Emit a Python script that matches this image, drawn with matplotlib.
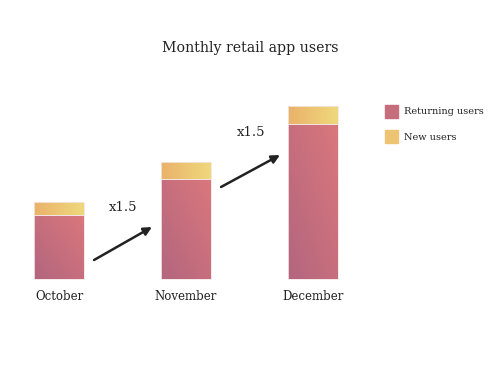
import numpy as np
import matplotlib
matplotlib.use('Agg')
import matplotlib.pyplot as plt
from matplotlib.colors import LinearSegmentedColormap
from matplotlib.patches import Rectangle

months = ['October', 'November', 'December']
returning = [50, 78, 121]
new = [10, 13, 14]

plt.rcParams['font.family'] = ['DejaVu Serif']

ret_cmap = LinearSegmentedColormap.from_list('ret', ['#b3667f', '#da777c'])
new_cmap = LinearSegmentedColormap.from_list('new', ['#eab26a', '#efd87c'])


def grad_bar(ax, x0, y0, w, h, cmap, diagonal):
    xx, yy = np.meshgrid(np.linspace(0, 1, 64), np.linspace(0, 1, 64))
    z = (xx + yy) / 2 if diagonal else xx
    im = ax.imshow(z, cmap=cmap, extent=(x0, x0 + w, y0, y0 + h),
                   origin='lower', aspect='auto', zorder=2)
    clip = Rectangle((x0, y0), w, h, transform=ax.transData)
    im.set_clip_path(clip)
    ax.add_patch(Rectangle((x0, y0), w, h, fill=False, ec='#f4e6e6', lw=0.6, zorder=3))


fig = plt.figure(figsize=(5, 3.77), dpi=100)
ax = fig.add_axes([0, 0, 1, 1])
px = 1.2833
ax.set_xlim(-59 / 127, 441 / 127)
ax.set_ylim(-(377 - 279) / px, 279 / px)
ax.axis('off')

w = 0.39
x = np.arange(len(months))
for i, m in enumerate(months):
    grad_bar(ax, x[i] - w / 2, 0, w, returning[i], ret_cmap, True)
    grad_bar(ax, x[i] - w / 2, returning[i], w, new[i], new_cmap, False)
    ax.text(x[i], -14, m, ha='center', va='center', fontsize=8.5, color='#222222')

totals = [r + n for r, n in zip(returning, new)]
arrows = [((0.276, 14.8), (0.732, 40.5), (0.504, 56)),
          ((1.276, 71.7), (1.740, 96.6), (1.512, 114))]
for i, (s, e, t) in enumerate(arrows):
    ax.annotate('', xy=e, xytext=s,
                arrowprops=dict(arrowstyle='-|>', color='#222222', lw=1.8,
                                mutation_scale=12, shrinkA=0, shrinkB=0))
    ax.text(t[0], t[1], f'x{totals[i + 1] / totals[i]:.1f}', ha='center', va='center',
            fontsize=9.5, color='#222222')

fig.text(0.5, 1 - 48 / 377, 'Monthly retail app users', ha='center', va='center',
         fontsize=10.2, color='#222222')

# legend
lax = fig.add_axes([0, 0, 1, 1], facecolor='none')
lax.set_xlim(0, 500)
lax.set_ylim(377, 0)
lax.axis('off')
lax.add_patch(Rectangle((385, 105), 13, 13, color='#c66d7c'))
lax.add_patch(Rectangle((385, 130), 13, 13, color='#edc473'))
lax.text(404, 112, 'Returning users', va='center', fontsize=7, color='#222222')
lax.text(404, 137, 'New users', va='center', fontsize=7, color='#222222')

fig.savefig('out.png', dpi=100, facecolor='white')
